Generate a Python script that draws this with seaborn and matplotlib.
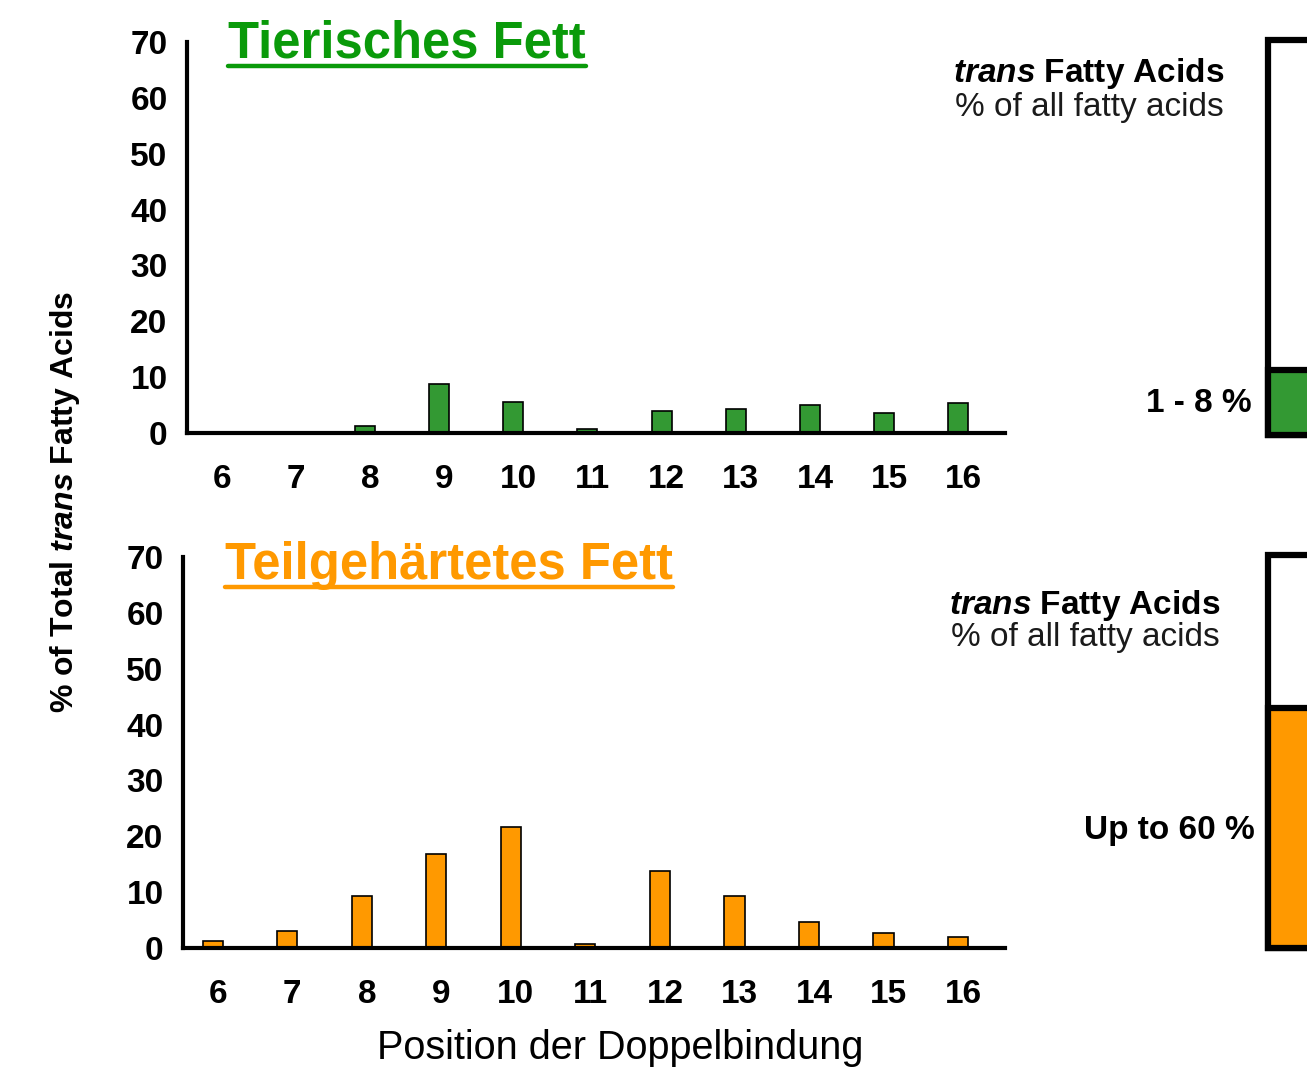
import matplotlib
matplotlib.use('Agg')
import matplotlib.pyplot as plt
import matplotlib.transforms as mtransforms
import pandas as pd
import seaborn as sns
from matplotlib.lines import Line2D

# data
positions = [6, 7, 8, 9, 10, 11, 12, 13, 14, 15, 16]
animal_fat = [0, 0, 1.3, 8.8, 5.5, 0.7, 4.0, 4.3, 5.1, 3.6, 5.4]
hydrogenated_fat = [1.2, 3.1, 9.3, 16.8, 21.7, 0.7, 13.8, 9.3, 4.6, 2.7, 2.0]
y_ticks = [0, 10, 20, 30, 40, 50, 60, 70]
box_fill = [16.5, 61]          # drawn share of the right-hand boxes
box_labels = ['1 - 8 %', 'Up to 60 %']
titles = ['Tierisches Fett', 'Teilgehärtetes Fett']

GREEN = '#339933'
GREEN_TXT = '#0a9a0a'
ORANGE = '#ff9900'

sns.set_style('white')
plt.rcParams['font.family'] = ['Liberation Sans', 'DejaVu Sans']
plt.rcParams['text.color'] = 'black'
plt.rcParams['xtick.color'] = 'black'
plt.rcParams['ytick.color'] = 'black'
plt.rcParams['mathtext.fontset'] = 'custom'
plt.rcParams['mathtext.it'] = 'Liberation Sans:italic:bold'
plt.rcParams['mathtext.rm'] = 'Liberation Sans:bold'

W, H = 1307, 1069
fig = plt.figure(figsize=(W / 100, H / 100), dpi=100)


def px(x, y):
    # pixel (from top-left) -> figure fraction
    return x / W, 1 - y / H


panels = [
    dict(vals=animal_fat, color=GREEN, tcolor=GREEN_TXT, left=187, top=42, bottom=433,
         title_xy=(228, 58), txt_y=(82, 116), txt_x=1224, box=(40, 435), lab_xy=(1252, 403)),
    dict(vals=hydrogenated_fat, color=ORANGE, tcolor=ORANGE, left=183, top=557, bottom=948,
         title_xy=(225, 579), txt_y=(614, 646), txt_x=1220, box=(555, 948), lab_xy=(1255, 830)),
]

# tick numbers sit a little to the right of the bars
label_shift = mtransforms.ScaledTranslation(5 / 100, 0, fig.dpi_scale_trans)

title_texts = []
for i, p in enumerate(panels):
    x0, y0 = px(p['left'], p['bottom'])
    x1, y1 = px(1005, p['top'])
    ax = fig.add_axes([x0, y0, x1 - x0, y1 - y0])
    df = pd.DataFrame({'pos': positions, 'val': p['vals']})
    sns.barplot(data=df, x='pos', y='val', native_scale=True, width=0.27,
                color=p['color'], edgecolor='black', linewidth=1.2, saturation=1, ax=ax)
    ax.set_xlim(5.6, 16.63)
    ax.set_ylim(0, 70)
    ax.set_yticks(y_ticks)
    ax.set_xticks(positions)
    ax.set_xticklabels([str(v) for v in positions])
    ax.set_xlabel('')
    ax.set_ylabel('')
    for s in ['top', 'right']:
        ax.spines[s].set_visible(False)
    for s in ['left', 'bottom']:
        ax.spines[s].set_linewidth(3)
        ax.spines[s].set_color('black')
        ax.spines[s].set_zorder(5)
    ax.tick_params(axis='y', direction='in', length=8, width=3, pad=14,
                   labelsize=24)
    ax.tick_params(axis='x', length=0, pad=22, labelsize=24)
    for lab in ax.get_xticklabels():
        lab.set_transform(lab.get_transform() + label_shift)
    for lab in ax.get_xticklabels() + ax.get_yticklabels():
        lab.set_fontweight('bold')
        lab.set_color('black')
    ax.patch.set_alpha(0)

    tx, ty = px(*p['title_xy'])
    t = fig.text(tx, ty, titles[i], color=p['tcolor'], fontsize=36.5,
                 fontweight='bold', ha='left', va='baseline')
    title_texts.append((t, p['tcolor']))

    rx, ry1 = px(p['txt_x'], p['txt_y'][0])
    _, ry2 = px(p['txt_x'], p['txt_y'][1])
    fig.text(rx, ry1, r'$\mathit{trans}$ Fatty Acids', fontsize=24, fontweight='bold',
             ha='right', va='baseline')
    fig.text(rx, ry2, '% of all fatty acids', fontsize=24, color='#1a1a1a',
             ha='right', va='baseline')

    # right-hand share box
    bx0, by0 = px(1268, p['box'][1])
    _, by1 = px(1268, p['box'][0])
    bax = fig.add_axes([bx0, by0, 0.12, by1 - by0])
    bax.bar([0], [100], width=1, color='white', edgecolor='black', linewidth=4.5)
    bax.bar([0], [box_fill[i]], width=1, color=p['color'], edgecolor='black', linewidth=4.5)
    bax.set_xlim(-0.5, 0.5)
    bax.set_ylim(0, 100)
    bax.axis('off')
    for patch in bax.patches:
        patch.set_clip_on(False)

    lx, ly = px(*p['lab_xy'])
    fig.text(lx, ly, box_labels[i], fontsize=24, fontweight='bold', ha='right', va='center')

yl_x, yl_y = px(65, 502)
fig.text(yl_x, yl_y, r'% of Total $\mathit{trans}$ Fatty Acids', rotation=90,
         fontsize=23, fontweight='bold', ha='center', va='center')
xl_x, xl_y = px(620, 1048)
fig.text(xl_x, xl_y, 'Position der Doppelbindung', fontsize=28.5, ha='center', va='center')

# underline the titles
fig.canvas.draw()
renderer = fig.canvas.get_renderer()
for t, c in title_texts:
    bb = t.get_window_extent(renderer)
    uy = bb.y0 + 3
    fig.add_artist(Line2D([bb.x0 / W, bb.x1 / W], [uy / H, uy / H], color=c,
                          linewidth=3.2, transform=fig.transFigure))

fig.savefig('out.png', dpi=100)
